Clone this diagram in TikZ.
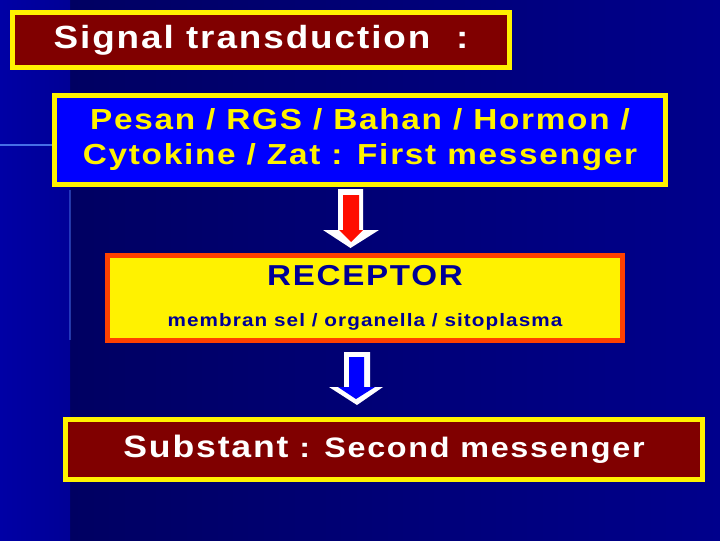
\documentclass[tikz,border=0pt]{standalone}
\usepackage{fontspec}
\setmainfont{Liberation Sans}
\newfontfamily\widefont[FakeStretch=1.15,LetterSpace=6]{Liberation Sans}
\usetikzlibrary{calc}
\definecolor{bgdark}{RGB}{0,0,98}
\definecolor{bglight}{RGB}{0,0,140}
\definecolor{stripL}{RGB}{0,0,165}
\definecolor{stripR}{RGB}{0,0,150}
\definecolor{boxred}{RGB}{128,0,0}
\definecolor{boxblue}{RGB}{0,0,255}
\definecolor{rimorange}{RGB}{255,64,0}
\definecolor{recblue}{RGB}{0,0,150}
\definecolor{glint}{RGB}{70,110,230}
\tikzset{
  box/.style={draw, line width=3.54pt, inner sep=0pt, align=center},
  titlebox/.style={box, draw=yellow, fill=boxred, text=white,
    minimum width=12.425cm, minimum height=1.375cm,
    font=\widefont\bfseries\fontsize{22.8}{26}\selectfont},
  firstbox/.style={box, draw=yellow, fill=boxblue, text=yellow,
    minimum width=15.275cm, minimum height=2.225cm,
    font=\widefont\bfseries\fontsize{20.6}{24.8}\selectfont},
  recbox/.style={box, draw=rimorange, fill=yellow, text=recblue,
    minimum width=12.875cm, minimum height=2.125cm,
    font=\widefont\bfseries\fontsize{20.5}{24}\selectfont},
  secondbox/.style={box, draw=yellow, fill=boxred, text=white,
    minimum width=15.925cm, minimum height=1.5cm,
    font=\widefont\bfseries\fontsize{22}{26}\selectfont}
}
\begin{document}
\begin{tikzpicture}[x=0.025cm,y=-0.025cm]
\useasboundingbox (0,0) rectangle (720,540);
% slide background
\shade[left color=bgdark, right color=bglight] (70,0) rectangle (720,540);
\shade[left color=stripL, right color=stripR] (0,0) rectangle (70,540);
\draw[glint, line width=1pt] (0,145) -- (52,145);
\draw[glint, line width=0.8pt, opacity=0.5] (70,190) -- (70,340);

% boxes
\node[titlebox] (title) at (261,40) {Signal transduction\hspace{0.8em}:};
\node[firstbox] (first) at (360,140)
  {Pesan / RGS / Bahan / Hormon /\\ Cytokine / Zat : First messenger};
\node[recbox] (receptor) at (365,298)
  {RECEPTOR\\[5pt]
   {\fontsize{12.8}{15}\selectfont membran sel / organella / sitoplasma}};
\node[secondbox] (second) at (384,449.5)
  {Substant\hspace{0.35em}{\fontsize{20}{26}\selectfont : Second messenger}};

% block arrows between the boxes
\coordinate (arrA) at ($(first.south)!0.5!(receptor.north)$);
\coordinate (arrB) at ($(receptor.south)!0.5!(second.north)$);
\begin{scope}[shift={($(arrA)+(-12,-1.5)$)}]
\fill[white] (-12.5,-29.5) -- (12.5,-29.5) -- (12.5,11.5) -- (28.5,11.5)
  -- (0,29.5) -- (-27.5,11.5) -- (-12.5,11.5) -- cycle;
\fill[red!90!orange] (-7.5,-23.5) -- (8.5,-23.5) -- (8.5,11.5) -- (12.5,11.5)
  -- (0.5,23.5) -- (-11.5,11.5) -- (-7.5,11.5) -- cycle;
\end{scope}
\begin{scope}[shift={($(arrB)+(-17.5,-1.5)$)}]
\fill[white] (-13,-26.5) -- (13,-26.5) -- (13,8.5) -- (26,8.5)
  -- (0,26.5) -- (-28,8.5) -- (-13,8.5) -- cycle;
\fill[boxblue] (-8,-21.5) -- (7,-21.5) -- (7,8.5) -- (18,8.5)
  -- (-1,20.5) -- (-19,8.5) -- (-8,8.5) -- cycle;
\end{scope}
\end{tikzpicture}
\end{document}
